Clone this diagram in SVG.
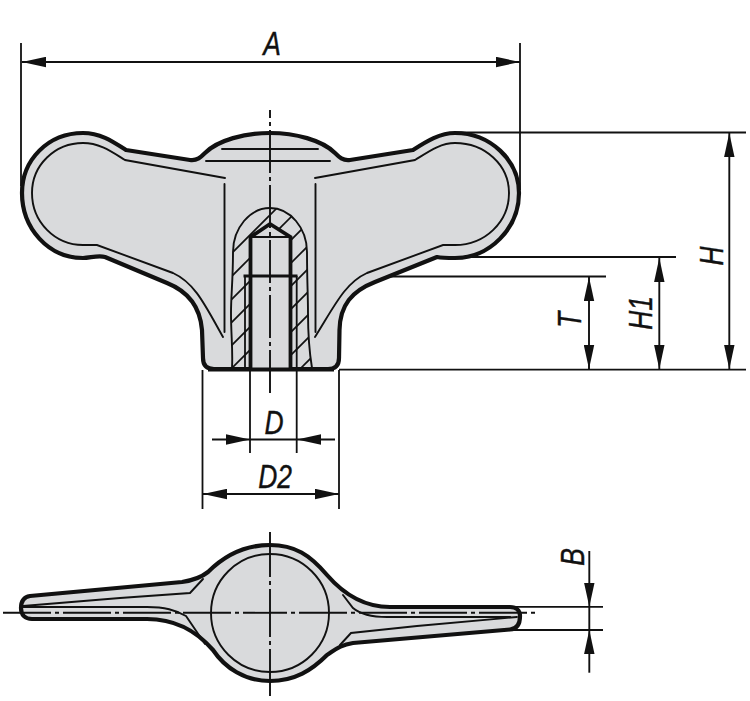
<svg xmlns="http://www.w3.org/2000/svg" width="750" height="701" viewBox="0 0 750 701">
<style>
.body{fill:#d9dadc;stroke:#111;stroke-width:4.2;stroke-linejoin:round}
.inner{fill:none;stroke:#111;stroke-width:1.9;stroke-linecap:round}
.thick{fill:none;stroke:#111;stroke-width:3.8;stroke-linejoin:miter}
.thin{fill:none;stroke:#111;stroke-width:1.8}
.hatch{stroke:#111;stroke-width:1.7}
.dim{fill:none;stroke:#111;stroke-width:1.9}
.arr{marker-end:url(#ah)}
.axis{fill:none;stroke:#111;stroke-width:1.9}
text{font-family:"Liberation Sans",Arial,sans-serif;font-style:italic;font-size:33px;fill:#111;stroke:#111;stroke-width:.4;text-anchor:middle}
</style>
<defs>
<marker id="ah" markerUnits="userSpaceOnUse" markerWidth="24" markerHeight="11" viewBox="0 0 23 10" refX="23" refY="5" orient="auto"><polygon points="0,0 23,5 0,10" fill="#111"/></marker>
<clipPath id="sect"><path d="M270 208 C250 208 233 228 233 252 C233 280 231 295 231 313 C231 335 233 350 232 369 L312 369 C309 350 308 335 308 313 C308 295 307 280 307 252 C307 228 290 208 270 208 Z"/></clipPath>
</defs>

<g id="connectors">
<path class="thin" d="M21 43V186M520 43V190M455 132.500H746M445 257H676M297 276.500H606M339 369.700H746M202.500 370V509M339 370V509M250 370V453M296.700 370V453M510 606.800H603M505 630H603"/>
<line class="dim arr" x1="270" y1="62" x2="22" y2="62"/>
<line class="dim arr" x1="270" y1="62" x2="520" y2="62"/>
<line class="dim arr" x1="589" y1="320" x2="589" y2="277"/>
<line class="dim arr" x1="589" y1="320" x2="589" y2="369"/>
<line class="dim arr" x1="659.300" y1="310" x2="659.300" y2="258"/>
<line class="dim arr" x1="659.300" y1="310" x2="659.300" y2="369"/>
<line class="dim arr" x1="729.300" y1="250" x2="729.300" y2="133"/>
<line class="dim arr" x1="729.300" y1="250" x2="729.300" y2="369"/>
<line class="dim arr" x1="212" y1="439.500" x2="250" y2="439.500"/>
<line class="dim arr" x1="335" y1="439.500" x2="297" y2="439.500"/>
<line class="dim" x1="250" y1="439.500" x2="297" y2="439.500"/>
<line class="dim arr" x1="270" y1="494" x2="203" y2="494"/>
<line class="dim arr" x1="270" y1="494" x2="339" y2="494"/>
<line class="dim arr" x1="589.300" y1="551" x2="589.300" y2="606.800"/>
<line class="dim arr" x1="589.300" y1="672.700" x2="589.300" y2="630"/>
<line class="dim" x1="589.300" y1="606.800" x2="589.300" y2="630"/>
</g>

<g id="knob-side">
<path class="body" d="M83 133 C100 133 112 141 126 150 L190 160 C197 161 201 157 205 153 C218 140 245 133 270 133 C295 133 322 140 335 153 C339 157 343 161 350 160 L413 150 C427 141 440 133 455 133 C490 133 519 160 519 193 C519 228 490 258 455 258 C448 258 442 258 437 257 L375 282 C352 291 340 305 339.500 330 L339 358 Q339 369 328 369 L214 369 Q203 369 203 358 L202 330 C200 305 187 291 167 283 L105 257 C98 255 90 258 83 258 C48 258 22 228 22 193 C22 160 48 133 83 133 Z"/>
<path class="inner" d="M225 178 L125 160 C112 152 100 143 83 143 C55 143 32 165 32 193 C32 222 55 245 83 245 L97 245 L173 273 C195 283 205 305 223 337"/>
<path class="inner" d="M315 178 L415 160 C428 152 440 143 455 143 C485 143 509 165 509 193 C509 222 485 245 455 245 L443 245 L367 273 C345 283 335 305 315 337"/>
<path class="inner" d="M224.500 184 V332 M315.500 184 V332 M222 149 H318 M206 161 H330"/>
</g>

<g id="section">
<g clip-path="url(#sect)" class="hatch">
<line x1="200" y1="262" x2="300" y2="162"/><line x1="200" y1="285" x2="320" y2="165"/>
<line x1="200" y1="308" x2="340" y2="168"/><line x1="200" y1="331" x2="340" y2="191"/>
<line x1="200" y1="354" x2="340" y2="214"/><line x1="200" y1="377" x2="340" y2="237"/>
<line x1="200" y1="400" x2="340" y2="260"/><line x1="220" y1="403" x2="340" y2="283"/>
<line x1="240" y1="406" x2="340" y2="306"/><line x1="260" y1="409" x2="340" y2="329"/>
<line x1="280" y1="412" x2="340" y2="352"/><line x1="290" y1="425" x2="340" y2="375"/>
</g>
<path class="inner" d="M270 208 C250 208 233 228 233 252 C233 280 231 295 231 313 C231 335 233 350 232 368 M270 208 C290 208 307 228 307 252 C307 280 308 295 308 313 C308 335 309 350 312 368"/>
<path d="M250.500 369 V237 L270 224 L290.500 237 V369 Z" fill="#d9dadc"/>
<path class="thick" d="M250.500 369 V237 L270 224 L290.500 237 V369"/>
<path class="inner" d="M250.500 237 H290.500"/>
<path d="M243.500 276 H297.500" stroke="#111" stroke-width="3" fill="none"/>
<path class="thin" d="M245 276 V369 M296.700 276 V369"/>
<line class="axis" x1="270" y1="110" x2="270" y2="395" stroke-dasharray="43 4 4 4" stroke-dashoffset="35"/>
<path d="M208 369.500 H334" stroke="#111" stroke-width="4.2" fill="none"/>
</g>

<g id="knob-top">
<path class="body" d="M30 596 L182 582 C195 580 203 576 208 572 C225 555 245 545 270 545 C295 545 310 555 327 575 C340 590 360 607 390 607 L510 607 C517 607 520 611 520 616 C520 624 517 629 510 629.500 L353 643 C340 645 335 650 327 655 C312 670 295 681 270 681 C245 681 225 668 213 650 C200 635 180 619 147 619 L32 619 C25 619 21 615 21 608 C21 601 24 597 30 596 Z"/>
<circle class="inner" cx="270" cy="613" r="59"/>
<path class="inner" d="M23 606 L120 598 L190 593 L203 579 M23 607 L147 607 C165 607 175 610 186 616 L205 644"/>
<path class="inner" d="M343 595 L353 608 C360 614 370 617 387 617 L510 617 M517 617 L417 626 L351 633 L340 645"/>
<line class="axis" x1="3" y1="612.800" x2="270" y2="612.800" stroke-dasharray="48 4 4 4"/>
<line class="axis" x1="535" y1="612.800" x2="270" y2="612.800" stroke-dasharray="4 4 48 4"/>
<line class="axis" x1="270" y1="532" x2="270" y2="696" stroke-dasharray="48 4 4 4" stroke-dashoffset="3"/>
</g>

<g id="labels">
<text transform="translate(272 55) scale(.8 1)">A</text>
<text transform="translate(274 434) scale(.8 1)">D</text>
<text transform="translate(275 488) scale(.8 1)">D2</text>
<text transform="translate(722.700 256) rotate(-90) scale(.8 1)">H</text>
<text transform="translate(651.700 313) rotate(-90) scale(.8 1)">H1</text>
<text transform="translate(580.700 320) rotate(-90) scale(.8 1)">T</text>
<text transform="translate(584 557) rotate(-90) scale(.8 1)">B</text>
</g>
</svg>
